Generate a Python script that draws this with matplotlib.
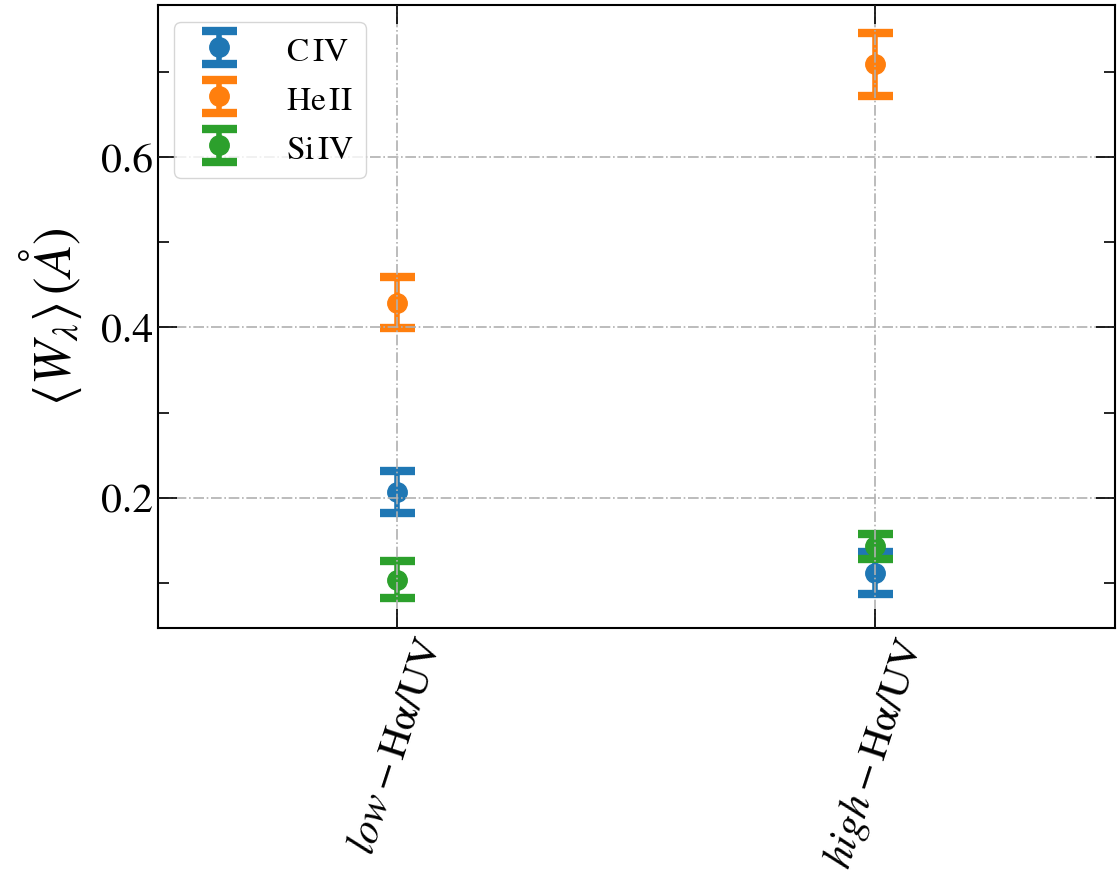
import numpy as np
import matplotlib
matplotlib.use("Agg")
import matplotlib.pyplot as plt

plt.rcParams["font.family"] = "STIXGeneral"
plt.rcParams["mathtext.fontset"] = "stix"

groups = [r"$low-\mathrm{H\alpha/UV}$", r"$high-\mathrm{H\alpha/UV}$"]
lines = [r"$\mathrm{C\,IV}$", r"$\mathrm{He\,II}$", r"$\mathrm{Si\,IV}$"]
values = {
  "civ": [0.207, 0.112],
  "heii": [0.429, 0.709],
  "siiv": [0.104, 0.143],
}
errors = {
  "civ": [0.025, 0.025],
  "heii": [0.030, 0.037],
  "siiv": [0.022, 0.015],
}
colors = ["#1f77b4", "#ff7f0e", "#2ca02c"]

fig, ax = plt.subplots(figsize=(11.18, 8.88), dpi=100)
fig.subplots_adjust(left=0.141, right=0.997, top=0.994, bottom=0.293)

x = np.arange(len(groups))
for key, lab, c in zip(["civ", "heii", "siiv"], lines, colors):
  ax.errorbar(x, values[key], yerr=errors[key], fmt="o", color=c, ms=14,
              elinewidth=4, capsize=12.6, capthick=6, label=lab)

ax.set_xlim(-0.5, 1.5)
ax.set_ylim(0.0475, 0.778)
ax.set_xticks(x)
ax.set_xticklabels(groups, rotation=72, fontsize=30)
ax.set_yticks([0.2, 0.4, 0.6])
ax.set_yticks([0.1, 0.3, 0.5, 0.7], minor=True)
ax.tick_params(axis="y", which="major", direction="in", length=14, width=1.2, labelsize=30, right=True)
ax.tick_params(axis="y", which="minor", direction="in", length=8, width=1.2, right=True)
ax.tick_params(axis="x", which="major", direction="in", length=14, width=1.2, top=True)
for s in ax.spines.values():
  s.set_linewidth(1.5)
ax.set_axisbelow(False)
ax.grid(True, linestyle="-.", color="#b0b0b0", linewidth=1.2)
ax.set_ylabel(r"$\langle W_{\lambda} \rangle \, (\AA)$", fontsize=38, labelpad=12)
ax.legend(loc="upper left", fontsize=24, borderpad=0.35, handlelength=2.0,
          handleheight=1.1, labelspacing=0.44, handletextpad=1.0, borderaxespad=0.5)

fig.savefig("out.png", dpi=100)
